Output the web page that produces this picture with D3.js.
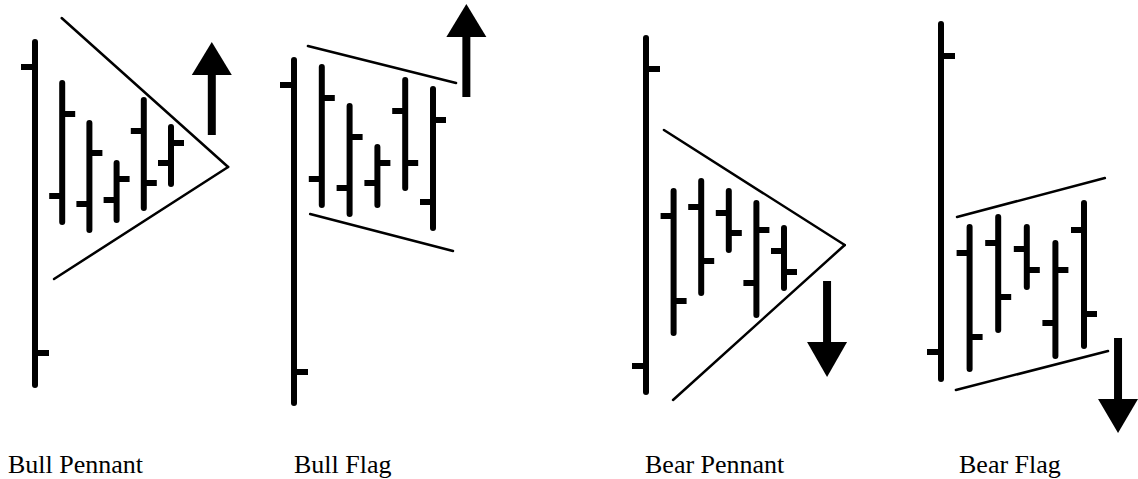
<!DOCTYPE html>
<html><head><meta charset="utf-8">
<script src="https://cdn.jsdelivr.net/npm/d3@7"></script>
<style>html,body{margin:0;padding:0;background:#fff;}</style>
</head><body>
<svg id="chart" width="1138" height="479"></svg>
<script>
// Pattern names
const patterns = ["Bull Pennant", "Bull Flag", "Bear Pennant", "Bear Flag"];

// Flag poles: [high, low, open, close]  (index 0 of each pattern)
const poleHigh  = [94.5, 90,   95.5, 99];
const poleLow   = [8.75, 4.25, 7,    10.25];
const poleOpen  = [88.25, 83.75, 13.5, 17];
const poleClose = [16.75, 12,   87.75, 91];

// OHLC bars inside each pattern (5 bars each)
const barHigh = [
  [84.25, 74.25, 64.25, 80, 73.25],
  [88.25, 78.5, 68.25, 85, 82.75],
  [57.25, 59.75, 57.25, 54.25, 48],
  [48.25, 50.75, 48.25, 44.25, 54.25]
];
const barLow = [
  [49.5, 47.5, 50, 53, 59],
  [53.75, 51.5, 53.75, 58, 48],
  [21.75, 31.75, 42.5, 26.25, 33],
  [12.75, 22.5, 33.25, 16, 18.5]
];
const barOpen = [
  [56, 54, 55, 72.25, 64.25],
  [60.25, 58, 59.25, 77.25, 54.5],
  [51, 53.25, 51.75, 34.25, 42.25],
  [41.75, 44.25, 42.75, 24.25, 47.5]
];
const barClose = [
  [76.5, 66.75, 60.25, 59.25, 69.25],
  [80.5, 70.75, 64.25, 64.25, 75],
  [29.75, 39.75, 46.75, 47.5, 37],
  [20.75, 30.75, 37.5, 37.5, 26.5]
];

// Trendlines: [[t0, p0], [t1, p1]]
const upperLines = [
  [[0.98, 100.5], [7.1, 63.25]],
  [[0.5, 93.5], [5.83, 84.25]],
  [[0.65, 72.5], [7.2, 43.75]],
  [[0.56, 50.75], [5.73, 60.5]]
];
const lowerLines = [
  [[0.7, 35.25], [7.1, 63.25]],
  [[0.58, 51.5], [5.72, 42.25]],
  [[0.98, 5], [7.2, 43.75]],
  [[0.52, 7.5], [5.84, 17.25]]
];

// Breakout arrows: position, shaft start, head base, tip
const arrowT     = [6.5, 6.2, 6.56, 6.19];
const arrowStart = [71.25, 80.75, 34.75, 20.5];
const arrowBase  = [86.25, 95.75, 19.5, 5.25];
const arrowTip   = [94.5, 104, 10.75, -3.25];

// Layout (pixel ranges for each pattern's time axis)
const xRanges = [[35, 171], [294, 433], [646, 784], [941, 1084]];
const labelX = [8, 294, 645, 959];

const svg = d3.select("#chart");
const y = d3.scaleLinear().domain([0, 100]).range([420, 20]);

const tick = 13, poleTick = 14;

patterns.forEach((name, i) => {
  const x = d3.scaleLinear().domain([0, 5]).range(xRanges[i]);
  const g = svg.append("g");

  // pole
  const px = x(0);
  g.append("line").attr("x1", px).attr("x2", px)
    .attr("y1", y(poleHigh[i])).attr("y2", y(poleLow[i]))
    .attr("stroke", "#000").attr("stroke-width", 6).attr("stroke-linecap", "round");
  g.append("line").attr("x1", px - poleTick).attr("x2", px)
    .attr("y1", y(poleOpen[i])).attr("y2", y(poleOpen[i]))
    .attr("stroke", "#000").attr("stroke-width", 6);
  g.append("line").attr("x1", px).attr("x2", px + poleTick)
    .attr("y1", y(poleClose[i])).attr("y2", y(poleClose[i]))
    .attr("stroke", "#000").attr("stroke-width", 6);

  // bars
  const bars = barHigh[i].map((h, j) => ({
    t: j + 1, h, l: barLow[i][j], o: barOpen[i][j], c: barClose[i][j]
  }));
  const bg = g.selectAll("g.bar").data(bars).join("g").attr("class", "bar");
  bg.append("line").attr("x1", d => x(d.t)).attr("x2", d => x(d.t))
    .attr("y1", d => y(d.h)).attr("y2", d => y(d.l))
    .attr("stroke", "#000").attr("stroke-width", 6).attr("stroke-linecap", "round");
  bg.append("line").attr("x1", d => x(d.t) - tick).attr("x2", d => x(d.t))
    .attr("y1", d => y(d.o)).attr("y2", d => y(d.o))
    .attr("stroke", "#000").attr("stroke-width", 6);
  bg.append("line").attr("x1", d => x(d.t)).attr("x2", d => x(d.t) + tick)
    .attr("y1", d => y(d.c)).attr("y2", d => y(d.c))
    .attr("stroke", "#000").attr("stroke-width", 6);

  // trendlines
  const lineGen = d3.line().x(d => x(d[0])).y(d => y(d[1]));
  [upperLines[i], lowerLines[i]].forEach(pts => {
    g.append("path").attr("d", lineGen(pts))
      .attr("fill", "none").attr("stroke", "#000").attr("stroke-width", 2.5)
      .attr("stroke-linecap", "round");
  });

  // arrow
  const ax = x(arrowT[i]);
  const hw = 20;
  g.append("line").attr("x1", ax).attr("x2", ax)
    .attr("y1", y(arrowStart[i])).attr("y2", y(arrowBase[i]))
    .attr("stroke", "#000").attr("stroke-width", 8);
  g.append("path")
    .attr("d", `M${ax - hw},${y(arrowBase[i])}L${ax + hw},${y(arrowBase[i])}L${ax},${y(arrowTip[i])}Z`)
    .attr("fill", "#000");

  // label
  svg.append("text").attr("x", labelX[i]).attr("y", 473)
    .attr("font-family", "'Liberation Serif', 'Times New Roman', serif")
    .attr("font-size", 26).attr("fill", "#000").text(name);
});
</script>
</body></html>
